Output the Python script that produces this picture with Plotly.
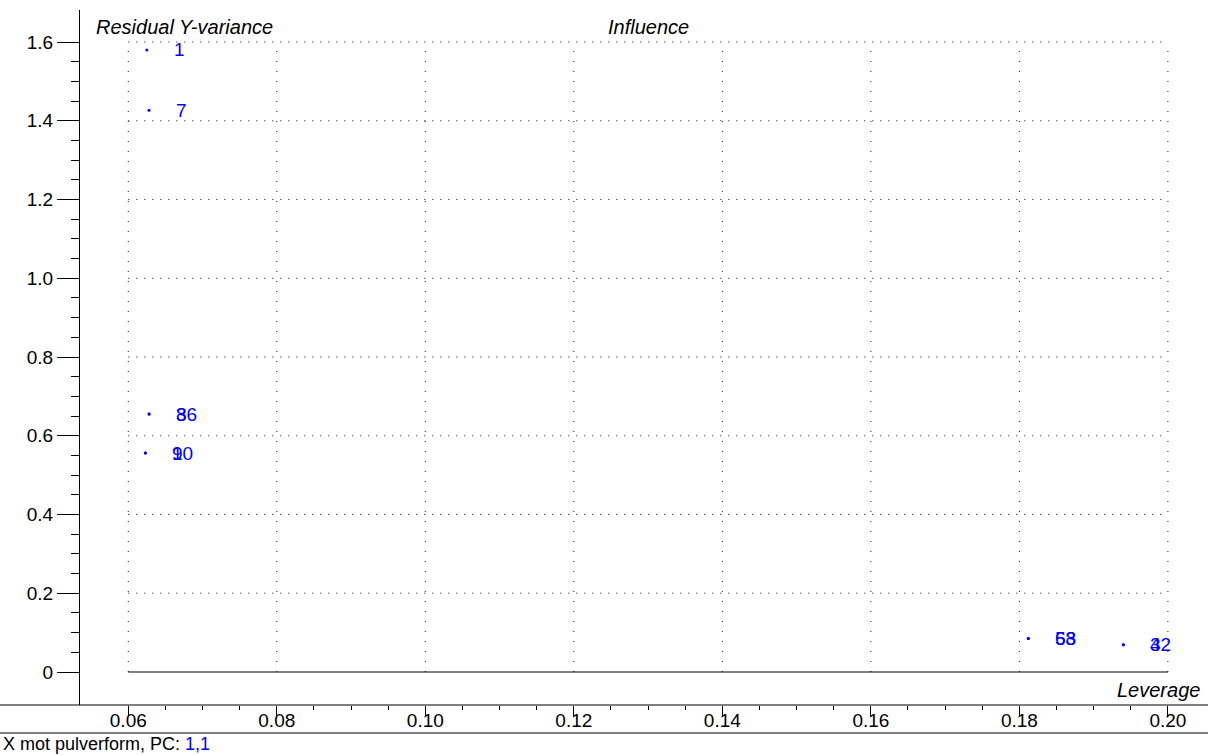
import plotly.graph_objects as go

# Sample labels with leverage (x) and residual Y-variance (y)
labels = ["1", "7", "36", "8", "9", "10", "63", "58", "32", "4"]
leverage = [0.0625, 0.0628, 0.0628, 0.0628, 0.0623, 0.0623, 0.1812, 0.1812, 0.1940, 0.1940]
resvar = [1.580, 1.427, 0.655, 0.655, 0.556, 0.556, 0.085, 0.085, 0.069, 0.069]

x_ticks = [0.06, 0.08, 0.10, 0.12, 0.14, 0.16, 0.18, 0.20]
x_ticktext = ["0.06", "0.08", "0.10", "0.12", "0.14", "0.16", "0.18", "0.20"]
y_ticks = [0, 0.2, 0.4, 0.6, 0.8, 1.0, 1.2, 1.4, 1.6]
y_ticktext = ["0", "0.2", "0.4", "0.6", "0.8", "1.0", "1.2", "1.4", "1.6"]

BLUE = "#0000ff"
FONT = "Liberation Sans, Arial, sans-serif"
FS = 19

x_lo, x_hi = 0.0535, 0.2054
y_lo, y_hi = -0.0838, 1.6813

W, H = 1208, 755
ML, MR, MT, MB = 80, 0, 10, 50
PW, PH = W - ML - MR, H - MT - MB

fig = go.Figure()

# dotted grid restricted to the data frame
gx, gy = [], []
for yv in y_ticks[1:]:
    gx += [x_ticks[0], x_ticks[-1], None]
    gy += [yv, yv, None]
fig.add_trace(go.Scatter(x=gx, y=gy, mode="lines", hoverinfo="skip",
                         line=dict(color="#111", width=1, dash="1px,7px"),
                         showlegend=False))
vx, vy = [], []
for xv in x_ticks:
    vx += [xv, xv, None]
    vy += [y_ticks[0], y_ticks[-1], None]
fig.add_trace(go.Scatter(x=vx, y=vy, mode="lines", hoverinfo="skip",
                         line=dict(color="#111", width=1, dash="1px,9px"),
                         showlegend=False))
# solid baseline at zero
fig.add_trace(go.Scatter(x=[x_ticks[0], x_ticks[-1]], y=[0, 0], mode="lines",
                         hoverinfo="skip", line=dict(color="black", width=1),
                         showlegend=False))

# sample points
fig.add_trace(go.Scatter(x=leverage, y=resvar, mode="markers",
                         marker=dict(color=BLUE, size=3, line=dict(width=0)),
                         showlegend=False))

# sample labels to the right of each point
for lab, xv, yv in zip(labels, leverage, resvar):
    fig.add_annotation(x=xv, y=yv, text=lab, showarrow=False,
                       xanchor="left", yanchor="middle", xshift=25,
                       font=dict(family=FONT, size=FS, color=BLUE))

# axis captions
fig.add_annotation(x=14 / PW, y=1, xref="paper", yref="paper",
                   text="<i>Residual Y-variance</i>", showarrow=False,
                   xanchor="left", yanchor="bottom", yshift=-30,
                   font=dict(family=FONT, size=20, color="black"))
fig.add_annotation(x=(648 - ML) / PW, y=1, xref="paper", yref="paper",
                   text="<i>Influence</i>", showarrow=False,
                   xanchor="center", yanchor="bottom", yshift=-30,
                   font=dict(family=FONT, size=20, color="black"))
fig.add_annotation(x=1 - 6 / PW, y=0, xref="paper", yref="paper",
                   text="<i>Leverage</i>", showarrow=False,
                   xanchor="right", yanchor="bottom", yshift=2,
                   font=dict(family=FONT, size=20, color="black"))
fig.add_annotation(x=-(ML - 1) / PW, y=-39 / PH, xref="paper", yref="paper",
                   text="X mot pulverform, PC: <span style='color:#0000ff'>1,1</span>",
                   showarrow=False, xanchor="left", yanchor="middle",
                   font=dict(family=FONT, size=18, color="black"))

# horizontal axis line across the full width and the footer separator
fig.add_shape(type="line", xref="paper", yref="paper",
              x0=-ML / PW, x1=1, y0=0, y1=0, line=dict(color="black", width=1))
fig.add_shape(type="line", xref="paper", yref="paper",
              x0=-ML / PW, x1=1, y0=-28 / PH, y1=-28 / PH,
              line=dict(color="black", width=1))

x_minor = [round(0.065 + 0.005 * i, 3) for i in range(28) if round((0.065 + 0.005 * i) * 1000) % 20 != 0]
y_minor = [round(0.05 * i, 2) for i in range(1, 32) if i % 4 != 0]

fig.update_layout(
    width=W, height=H,
    margin=dict(l=ML, r=MR, t=MT, b=MB, pad=0),
    paper_bgcolor="white", plot_bgcolor="white",
    font=dict(family=FONT, size=FS, color="black"),
    xaxis=dict(range=[x_lo, x_hi], showgrid=False, zeroline=False,
               showline=False, tickmode="array", tickvals=x_ticks,
               ticktext=x_ticktext, ticks="outside", ticklen=10,
               tickcolor="black", tickwidth=1, ticklabelstandoff=-12,
               tickfont=dict(family=FONT, size=FS),
               minor=dict(tickmode="array", tickvals=x_minor, ticks="outside",
                          ticklen=4, tickcolor="black", showgrid=False)),
    yaxis=dict(range=[y_lo, y_hi], showgrid=False, zeroline=False,
               showline=True, linecolor="black", linewidth=1,
               tickmode="array", tickvals=y_ticks, ticktext=y_ticktext,
               ticks="outside", ticklen=22, tickcolor="black", tickwidth=1,
               tickfont=dict(family=FONT, size=FS),
               minor=dict(tickmode="array", tickvals=y_minor, ticks="outside",
                          ticklen=8, tickcolor="black", showgrid=False)),
)

fig.write_html("out.html")
